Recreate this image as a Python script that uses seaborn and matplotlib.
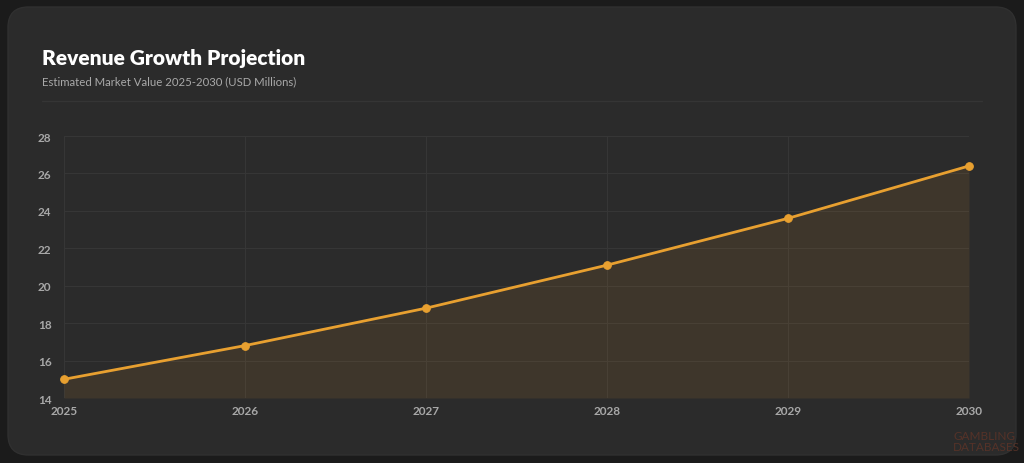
import matplotlib
matplotlib.use("Agg")
import matplotlib.pyplot as plt
from matplotlib.patches import FancyBboxPatch
import seaborn as sns
import pandas as pd

years = [2025, 2026, 2027, 2028, 2029, 2030]
revenue = [15.0, 16.8, 18.8, 21.1, 23.6, 26.4]
y_ticks = [14, 16, 18, 20, 22, 24, 26, 28]

title = "Revenue Growth Projection"
subtitle = "Estimated Market Value 2025-2030 (USD Millions)"

df = pd.DataFrame({"year": years, "revenue": revenue})

sns.set_theme(style="dark")
plt.rcParams["font.family"] = ["Lato", "DejaVu Sans"]

OUTER = "#1b1b1b"
CARD = "#2b2b2b"
LINE = "#e8a030"
GRID = "#363636"
TICK = "#a8a8a8"

fig = plt.figure(figsize=(10.24, 4.64), dpi=100)
fig.patch.set_facecolor(OUTER)

W, H = 1024, 464
card = FancyBboxPatch((8 / W, 8 / H), (1008 / W), (448 / H),
                      boxstyle="round,pad=0,rounding_size=0.02",
                      transform=fig.transFigure, facecolor=CARD,
                      edgecolor="#303030", linewidth=1, zorder=-10,
                      mutation_aspect=W / H)
fig.patches.append(card)

fig.text(42 / W, 1 - 58 / H, title, color="white", fontsize=15,
         fontweight="heavy", va="center", ha="left")
fig.text(42 / W, 1 - 82 / H, subtitle, color="#a9a9a9", fontsize=8.2,
         va="center", ha="left")
fig.add_artist(plt.Line2D([42 / W, 982 / W], [1 - 102 / H, 1 - 102 / H],
                          transform=fig.transFigure, color="#353535", lw=1))

ax = fig.add_axes([64 / W, 1 - 399 / H, (969 - 64) / W, (399 - 137) / H])
ax.set_facecolor(CARD)

ax.fill_between(df["year"], df["revenue"], y_ticks[0], color=LINE, alpha=0.1,
                linewidth=0, zorder=1)
sns.lineplot(data=df, x="year", y="revenue", ax=ax, color=LINE, linewidth=2.0,
             marker="o", markersize=5.5, markerfacecolor=LINE,
             markeredgecolor=LINE, zorder=3, clip_on=False)

ax.set_xlim(years[0], years[-1])
ax.set_ylim(y_ticks[0], y_ticks[-1])
ax.set_xticks(years)
ax.set_yticks(y_ticks)
ax.set_xticklabels([str(y) for y in years])
ax.set_yticklabels([str(t) for t in y_ticks])
ax.grid(True, color=GRID, linewidth=0.8)
ax.set_axisbelow(True)
for s in ax.spines.values():
    s.set_visible(False)
ax.tick_params(axis="both", colors=TICK, labelsize=8.5, length=0)
ax.tick_params(axis="y", pad=9)
ax.tick_params(axis="x", pad=5)
for lbl in ax.get_xticklabels() + ax.get_yticklabels():
    lbl.set_fontweight("bold")
ax.set_xlabel("")
ax.set_ylabel("")

fig.text(953 / W, 1 - 442 / H, "GAMBLING\nDATABASES", color="#5a3328",
         fontsize=8.5, va="center", ha="left", linespacing=0.9, alpha=0.9)

fig.savefig("out.png", dpi=100, facecolor=OUTER)
